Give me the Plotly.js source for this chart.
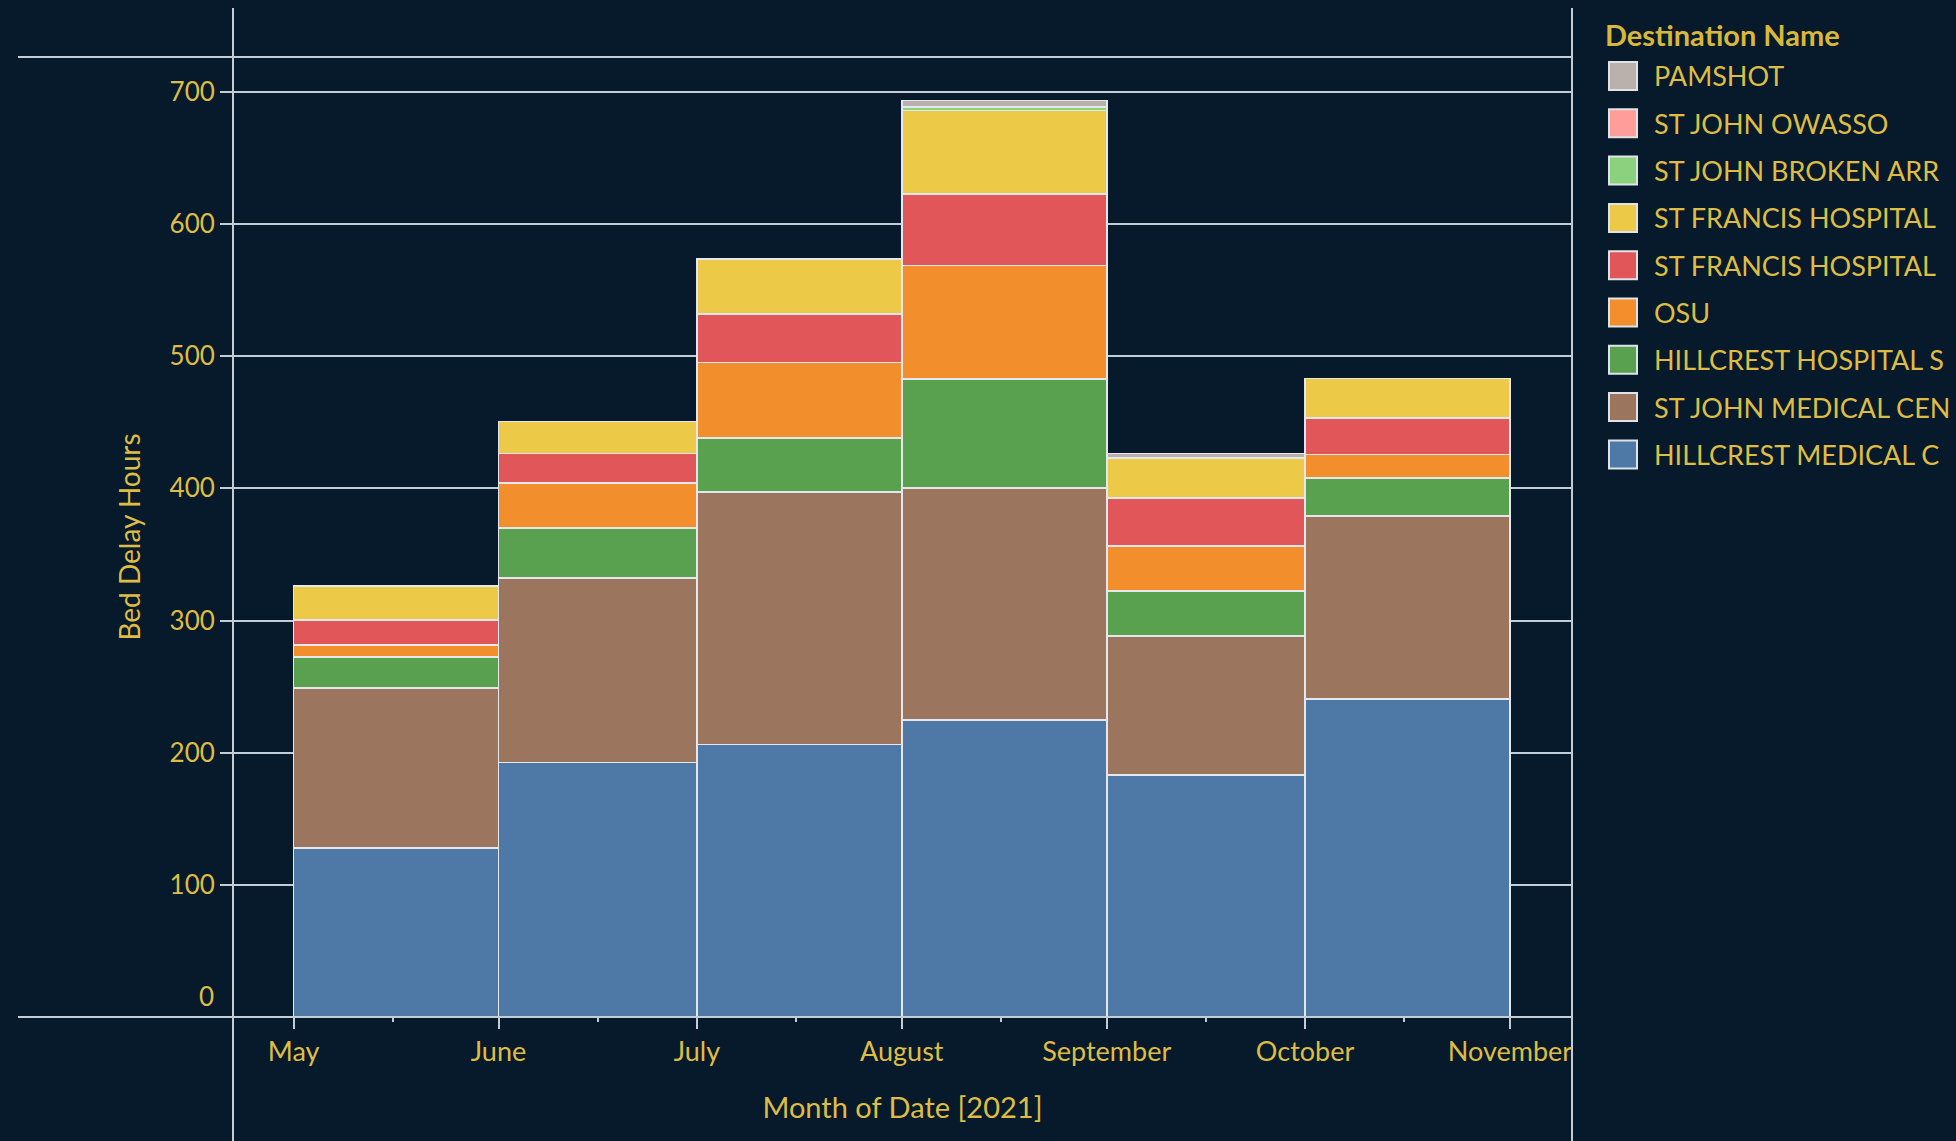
<!DOCTYPE html>
<html>
<head>
<meta charset="utf-8">
<script src="https://cdn.plot.ly/plotly-3.0.1.min.js"></script>
<style>
html,body{margin:0;padding:0;background:#061a2c;overflow:hidden;}
#chart{width:1956px;height:1141px;}
</style>
</head>
<body>
<div id="chart"></div>
<script>
// ---- data ----
const months = ['2021-05-01','2021-06-01','2021-07-01','2021-08-01','2021-09-01','2021-10-01'];
const monthDays = [31, 30, 31, 31, 30, 31];
const xTickVals = ['2021-05-01','2021-06-01','2021-07-01','2021-08-01','2021-09-01','2021-10-01','2021-11-01'];
const xTickText = ['May','June','July','August','September','October','November'];
const yTickVals = [0, 100, 200, 300, 400, 500, 600, 700];
const yTickText = ['0','100','200','300','400','500','600','700'];

// series, bottom to top of each stack
const seriesNames = ['HILLCREST MEDICAL C','ST JOHN MEDICAL CEN','HILLCREST HOSPITAL S','OSU',
  'ST FRANCIS HOSPITAL','ST FRANCIS HOSPITAL','ST JOHN BROKEN ARR','ST JOHN OWASSO','PAMSHOT'];
const seriesColors = ['#4e79a7','#9c755f','#59a14f','#f28e2b','#e15759','#edc948','#8cd17d','#ff9d9a','#bab0ac'];

const hillcrestMedical  = [127.7, 192.5, 206.3, 224.7, 183.2, 240.4];
const stJohnMedical     = [121.2, 139.9, 191.1, 175.7, 105.0, 138.5];
const hillcrestHospital = [ 23.6,  37.7,  40.8,  82.3,  34.1,  29.0];
const osu               = [  8.9,  34.1,  57.1,  85.9,  34.0,  17.6];
const stFrancisRed      = [ 18.9,  22.1,  36.6,  54.0,  36.5,  27.7];
const stFrancisYellow   = [ 25.7,  24.4,  41.8,  63.4,  30.2,  29.8];
const stJohnBrokenArrow = [  0,     0,     0,     2.4,   0,     0  ];
const stJohnOwasso      = [  0,     0,     0,     0,     0,     0  ];
const pamshot           = [  0,     0,     0,     5.0,   3.3,   0  ];

const seriesValues = [hillcrestMedical, stJohnMedical, hillcrestHospital, osu,
  stFrancisRed, stFrancisYellow, stJohnBrokenArrow, stJohnOwasso, pamshot];

// ---- style ----
const BG = '#061a2c';
const GOLD = '#dfbd45';
const GRID = '#c3cdd8';
const FONT = 'Lato, "Open Sans", sans-serif';
const W = 1956, H = 1141;
const PL = 233, PR = 1572, PT = 57, PB = 1017;
const px2x = p => (p - PL) / (PR - PL);
const px2y = p => (PB - p) / (PB - PT);
const DAY = 86400000;

const traces = seriesNames.map((name, i) => ({
  type: 'bar',
  name: name,
  x: months,
  y: seriesValues[i],
  width: monthDays.map(d => d * DAY),
  offset: 0,
  marker: {color: seriesColors[i], line: {color: '#e4e8ed', width: 1.6}},
  showlegend: false,
  hovertemplate: name + '<br>%{x|%B}: %{y:.1f}<extra></extra>'
}));

const shapes = [
  {type:'line', xref:'paper', yref:'paper', x0:px2x(18), x1:1, y0:1, y1:1, line:{color:GRID, width:2}},
  {type:'line', xref:'paper', yref:'paper', x0:px2x(18), x1:1, y0:0, y1:0, line:{color:GRID, width:2}},
  {type:'line', xref:'paper', yref:'paper', x0:0, x1:0, y0:px2y(H), y1:px2y(8), line:{color:GRID, width:2}},
  {type:'line', xref:'paper', yref:'paper', x0:1, x1:1, y0:px2y(H), y1:px2y(8), line:{color:GRID, width:2}}
];

const annotations = [
  {xref:'paper', yref:'paper', x:px2x(216), y:px2y(996), xanchor:'right', yanchor:'middle',
   text:yTickText[0], showarrow:false, font:{family:FONT, size:26, color:GOLD}},
  {xref:'paper', yref:'paper', x:px2x(1603), y:px2y(34), xanchor:'left', yanchor:'middle',
   text:'<b>Destination Name</b>', showarrow:false, font:{family:FONT, size:29, color:'#d9b73c'}}
];

// manual legend, top entry = last series
const legendOrder = seriesNames.map((n, i) => i).reverse();
legendOrder.forEach((si, k) => {
  const cy = 76 + k * 47.3;
  shapes.push({type:'rect', xref:'paper', yref:'paper',
    x0:px2x(1609), x1:px2x(1637), y0:px2y(cy + 14), y1:px2y(cy - 14),
    fillcolor:seriesColors[si], line:{color:'#dfe3e8', width:2}});
  annotations.push({xref:'paper', yref:'paper', x:px2x(1652), y:px2y(cy), xanchor:'left', yanchor:'middle',
    text:seriesNames[si], showarrow:false, font:{family:FONT, size:27, color:GOLD}});
});

const layout = {
  width: W, height: H,
  paper_bgcolor: BG, plot_bgcolor: BG,
  margin: {l: PL, r: W - PR, t: PT, b: H - PB, pad: 0},
  barmode: 'stack',
  showlegend: false,
  font: {family: FONT, color: GOLD},
  xaxis: {
    type: 'date',
    range: ['2021-04-21 20:00', '2021-11-10 09:00'],
    tickmode: 'array', tickvals: xTickVals, ticktext: xTickText,
    ticks: 'outside', ticklen: 11, tickwidth: 2, tickcolor: GRID,
    minor: {tick0: '2021-04-16', dtick: 'M1', ticks: 'outside', ticklen: 4, tickwidth: 2, tickcolor: GRID, showgrid: false},
    showgrid: false, zeroline: false, showline: false,
    tickfont: {family: FONT, size: 27, color: GOLD},
    title: {text: 'Month of Date [2021]', standoff: 31, font: {family: FONT, size: 29, color: GOLD}},
    fixedrange: true
  },
  yaxis: {
    range: [0, 726.4],
    tickmode: 'array', tickvals: yTickVals.slice(1), ticktext: yTickText.slice(1),
    ticks: 'outside', ticklen: 12, tickwidth: 2, tickcolor: GRID,
    showgrid: true, gridcolor: GRID, gridwidth: 2,
    zeroline: false, showline: false,
    tickfont: {family: FONT, size: 26, color: GOLD},
    title: {text: 'Bed Delay Hours', standoff: 20, font: {family: FONT, size: 28, color: GOLD}},
    fixedrange: true
  },
  shapes: shapes,
  annotations: annotations
};

Plotly.newPlot('chart', traces, layout, {displayModeBar: false, responsive: false});
</script>
</body>
</html>
